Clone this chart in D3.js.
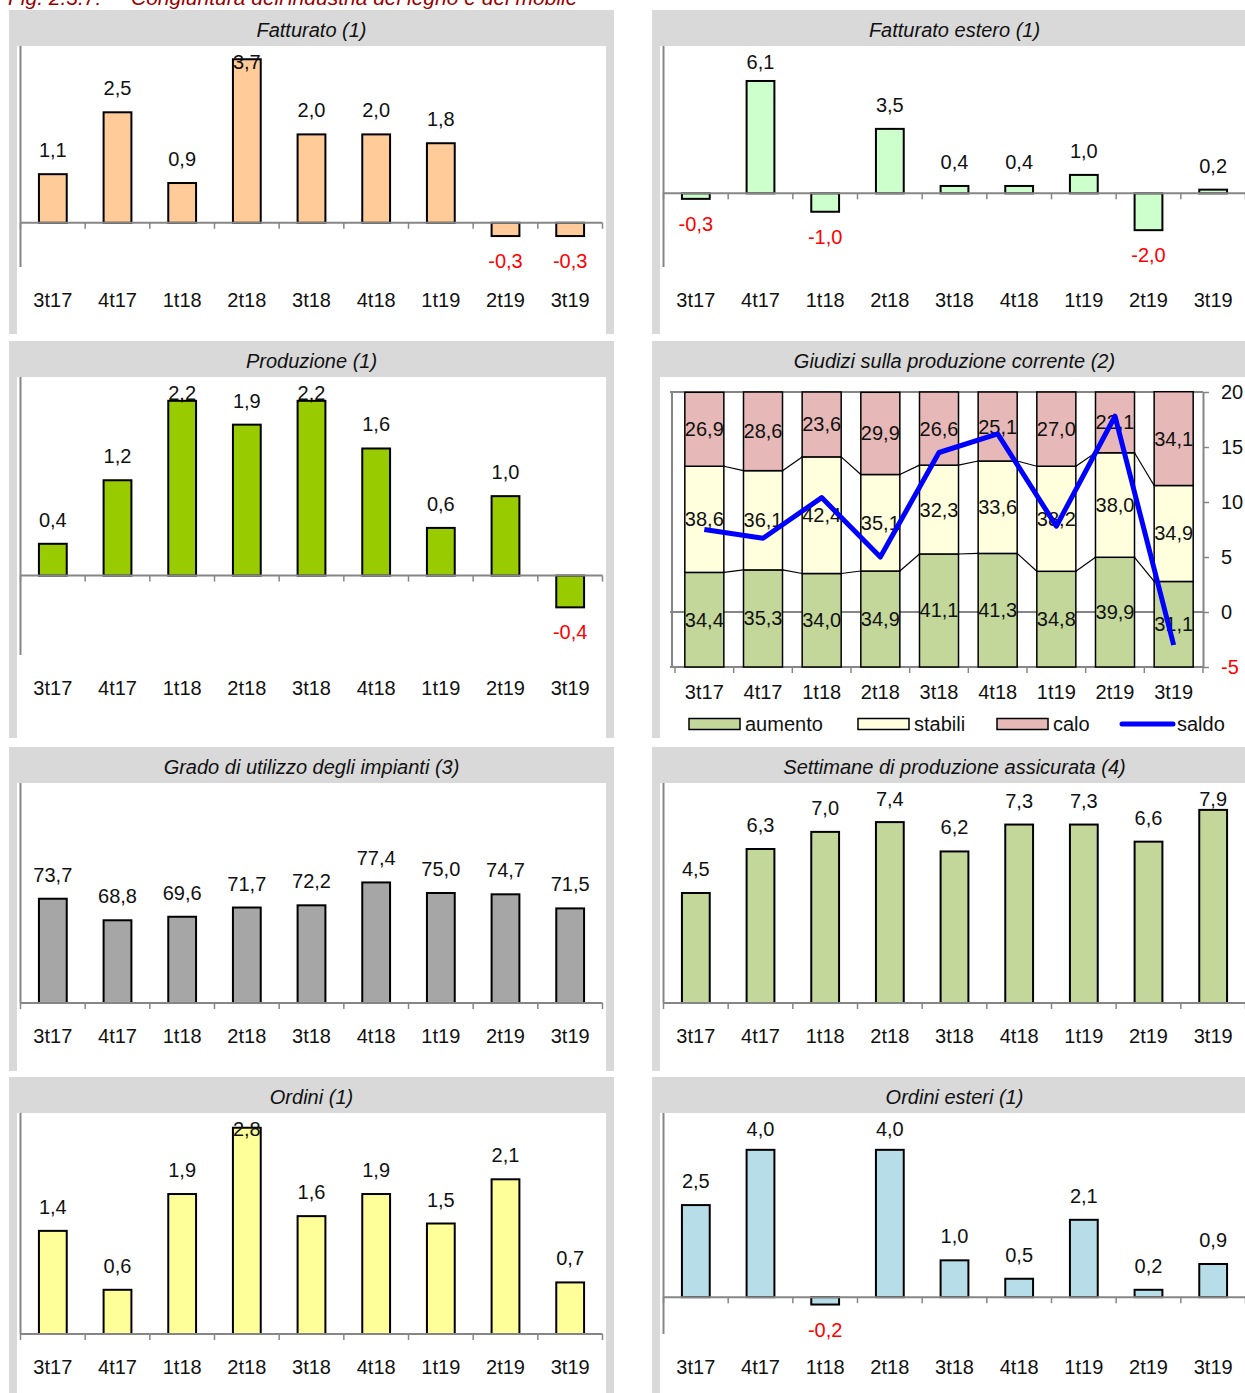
<!DOCTYPE html>
<html>
<head>
<meta charset="utf-8">
<script src="https://cdn.jsdelivr.net/npm/d3@7"></script>
<style>
  body { margin: 0; background: #fff; }
  svg text { font-family: "Liberation Sans", Arial, sans-serif; }
</style>
</head>
<body>
<svg id="chart" width="1245" height="1393"></svg>
<script>
const categories = ["3t17", "4t17", "1t18", "2t18", "3t18", "4t18", "1t19", "2t19", "3t19"];

const fatturato = [1.1, 2.5, 0.9, 3.7, 2.0, 2.0, 1.8, -0.3, -0.3];
const fatturatoEstero = [-0.3, 6.1, -1.0, 3.5, 0.4, 0.4, 1.0, -2.0, 0.2];
const produzione = [0.4, 1.2, 2.2, 1.9, 2.2, 1.6, 0.6, 1.0, -0.4];

const aumento = [34.4, 35.3, 34.0, 34.9, 41.1, 41.3, 34.8, 39.9, 31.1];
const stabili = [38.6, 36.1, 42.4, 35.1, 32.3, 33.6, 38.2, 38.0, 34.9];
const calo = [26.9, 28.6, 23.6, 29.9, 26.6, 25.1, 27.0, 22.1, 34.1];
const saldo = [7.5, 6.7, 10.4, 5.0, 14.5, 16.2, 7.8, 17.8, -3.0];
const saldoTicks = [-5, 0, 5, 10, 15, 20];

const utilizzo = [73.7, 68.8, 69.6, 71.7, 72.2, 77.4, 75.0, 74.7, 71.5];
const settimane = [4.5, 6.3, 7.0, 7.4, 6.2, 7.3, 7.3, 6.6, 7.9];
const ordini = [1.4, 0.6, 1.9, 2.8, 1.6, 1.9, 1.5, 2.1, 0.7];
const ordiniEsteri = [2.5, 4.0, -0.2, 4.0, 1.0, 0.5, 2.1, 0.2, 0.9];

const svg = d3.select("#chart");
const axisColor = "#868686";
const fmt = v => v.toFixed(1).replace(".", ",");

// figure title, cut off by the top edge
svg.append("text")
    .attr("x", 8).attr("y", 5)
    .attr("font-size", 21).attr("font-style", "italic")
    .attr("fill", "#990000")
    .text("Fig. 2.3.7:");
svg.append("text")
    .attr("x", 131).attr("y", 5)
    .attr("font-size", 21).attr("font-style", "italic")
    .attr("fill", "#990000")
    .text("Congiuntura dell'industria del legno e del mobile");

function panelFrame(x0, y0, w, h, title) {
    svg.append("rect")
        .attr("x", x0).attr("y", y0)
        .attr("width", w).attr("height", h)
        .attr("fill", "#d9d9d9");
    svg.append("rect")
        .attr("x", x0 + 8).attr("y", y0 + 36)
        .attr("width", w - 16).attr("height", h - 36)
        .attr("fill", "#fff");
    svg.append("text")
        .attr("x", x0 + w / 2).attr("y", y0 + 27)
        .attr("text-anchor", "middle")
        .attr("font-size", 20)
        .attr("font-style", "italic")
        .attr("fill", "#111")
        .text(title);
}

function categoryLabels(x, labelY) {
    const ax = svg.append("g")
        .attr("transform", `translate(0,${labelY - 7})`)
        .call(d3.axisBottom(x).tickSize(0).tickPadding(0));
    ax.select(".domain").remove();
    ax.selectAll("text")
        .attr("font-size", 20)
        .attr("font-family", "Liberation Sans, Arial, sans-serif")
        .attr("fill", "#111");
}

function barPanel(o) {
    const { x0, y0, w, h, title, values, fill, domain, labelOff } = o;
    panelFrame(x0, y0, w, h, title);

    const left = x0 + 11.5, right = left + 582;
    const top = y0 + 36, labelY = y0 + labelOff, bottom = labelY - 33;

    const x = d3.scaleBand().domain(categories).range([left, right]);
    const y = d3.scaleLinear().domain(domain).range([bottom, top]);
    const base = Math.max(domain[0], 0);
    const bw = x.bandwidth() * 0.43;
    const g = svg.append("g");

    g.selectAll(".bar")
        .data(values)
        .join("rect")
        .attr("class", "bar")
        .attr("x", (d, i) => x(categories[i]) + (x.bandwidth() - bw) / 2)
        .attr("y", d => y(Math.max(d, base)))
        .attr("width", bw)
        .attr("height", d => Math.abs(y(d) - y(base)))
        .attr("fill", fill)
        .attr("stroke", "#000")
        .attr("stroke-width", 2);

    // axes
    g.append("line")
        .attr("x1", left).attr("x2", left)
        .attr("y1", top).attr("y2", bottom)
        .attr("stroke", axisColor).attr("stroke-width", 2);
    g.append("line")
        .attr("x1", left).attr("x2", right)
        .attr("y1", y(base)).attr("y2", y(base))
        .attr("stroke", axisColor).attr("stroke-width", 2);
    g.selectAll(".tick-mark")
        .data(d3.range(categories.length + 1))
        .join("line")
        .attr("class", "tick-mark")
        .attr("x1", i => left + i * x.step()).attr("x2", i => left + i * x.step())
        .attr("y1", y(base)).attr("y2", y(base) + 6)
        .attr("stroke", axisColor).attr("stroke-width", 1.5);

    g.selectAll(".label")
        .data(values)
        .join("text")
        .attr("class", "label")
        .attr("x", (d, i) => x(categories[i]) + x.bandwidth() / 2)
        .attr("y", d => d >= 0
            ? Math.max(y(d) - 24, top + 16) + 7
            : y(d) + 25 + 7)
        .attr("text-anchor", "middle")
        .attr("font-size", 20)
        .attr("fill", d => d < 0 ? "#ff0000" : "#111")
        .text(d => fmt(d));

    categoryLabels(x, labelY);
}

const col1 = 9, col2 = 652, pw = 605;

barPanel({ x0: col1, y0: 10, w: pw, h: 324, title: "Fatturato (1)",
    values: fatturato, fill: "#ffcc99", domain: [-1, 4], labelOff: 290 });
barPanel({ x0: col2, y0: 10, w: pw, h: 324, title: "Fatturato estero (1)",
    values: fatturatoEstero, fill: "#ccffcc", domain: [-4, 8], labelOff: 290 });
barPanel({ x0: col1, y0: 341, w: pw, h: 397, title: "Produzione (1)",
    values: produzione, fill: "#99cc00", domain: [-1, 2.5], labelOff: 347 });
barPanel({ x0: col1, y0: 747, w: pw, h: 324, title: "Grado di utilizzo degli impianti (3)",
    values: utilizzo, fill: "#a6a6a6", domain: [50, 100], labelOff: 289 });
barPanel({ x0: col2, y0: 747, w: pw, h: 324, title: "Settimane di produzione assicurata (4)",
    values: settimane, fill: "#c4d79b", domain: [0, 9], labelOff: 289 });
barPanel({ x0: col1, y0: 1077, w: pw, h: 330, title: "Ordini (1)",
    values: ordini, fill: "#ffff99", domain: [0, 3], labelOff: 290 });
barPanel({ x0: col2, y0: 1077, w: pw, h: 330, title: "Ordini esteri (1)",
    values: ordiniEsteri, fill: "#b7dee8", domain: [-1, 5], labelOff: 290 });

// ---- Giudizi sulla produzione corrente (stacked + saldo line)
(function () {
    panelFrame(col2, 341, pw, 397, "Giudizi sulla produzione corrente (2)");
    const left = 675, right = 1203, top = 392, bottom = 667;
    const x = d3.scaleBand().domain(categories).range([left, right]);
    const yPct = d3.scaleLinear().domain([0, 100]).range([bottom, top]);
    const ySaldo = d3.scaleLinear().domain([-5, 20]).range([bottom, top]);
    const bw = x.bandwidth() * 0.665;
    const off = (x.bandwidth() - bw) / 2;

    const keys = ["aumento", "stabili", "calo"];
    const colors = { aumento: "#c4d79b", stabili: "#ffffdd", calo: "#e6b9b8" };
    const table = categories.map((c, i) => ({ cat: c, aumento: aumento[i], stabili: stabili[i], calo: calo[i] }));
    const series = d3.stack().keys(keys)(table);

    const g = svg.append("g");

    // grid / axis lines
    [top, ySaldo(0), bottom].forEach(yy => {
        g.append("line")
            .attr("x1", left - 5).attr("x2", right)
            .attr("y1", yy).attr("y2", yy)
            .attr("stroke", axisColor).attr("stroke-width", 2);
    });
    g.append("line")
        .attr("x1", left - 3).attr("x2", left - 3)
        .attr("y1", top).attr("y2", bottom)
        .attr("stroke", axisColor).attr("stroke-width", 2);

    series.forEach(s => {
        g.selectAll(null)
            .data(s)
            .join("rect")
            .attr("x", d => x(d.data.cat) + off)
            .attr("y", d => yPct(d[1]))
            .attr("width", bw)
            .attr("height", d => yPct(d[0]) - yPct(d[1]))
            .attr("fill", colors[s.key])
            .attr("stroke", "#000")
            .attr("stroke-width", 1.5);
    });

    // series lines between bars
    series.slice(0, 2).forEach(s => {
        g.selectAll(null)
            .data(s.slice(0, -1))
            .join("line")
            .attr("x1", d => x(d.data.cat) + off + bw)
            .attr("y1", d => yPct(d[1]))
            .attr("x2", (d, i) => x(s[i + 1].data.cat) + off)
            .attr("y2", (d, i) => yPct(s[i + 1][1]))
            .attr("stroke", "#000")
            .attr("stroke-width", 1.2);
    });

    series.forEach(s => {
        g.selectAll(null)
            .data(s)
            .join("text")
            .attr("x", d => x(d.data.cat) + x.bandwidth() / 2)
            .attr("y", d => yPct((d[0] + d[1]) / 2) + 7)
            .attr("text-anchor", "middle")
            .attr("font-size", 20)
            .attr("fill", "#111")
            .text(d => fmt(d.data[s.key]));
    });

    // bottom category ticks
    g.selectAll(".tick-mark")
        .data(d3.range(categories.length + 1))
        .join("line")
        .attr("x1", i => left + i * x.step()).attr("x2", i => left + i * x.step())
        .attr("y1", bottom).attr("y2", bottom + 6)
        .attr("stroke", axisColor).attr("stroke-width", 1.5);

    // right axis for saldo
    const ra = g.append("g")
        .attr("transform", `translate(${right},0)`)
        .call(d3.axisRight(ySaldo).tickValues(saldoTicks).tickSize(6).tickSizeOuter(0).tickPadding(12).tickFormat(d => String(d)));
    ra.select(".domain").attr("stroke", axisColor).attr("stroke-width", 2);
    ra.selectAll(".tick line").attr("stroke", axisColor).attr("stroke-width", 1.5);
    ra.selectAll(".tick text")
        .attr("font-size", 20)
        .attr("font-family", "Liberation Sans, Arial, sans-serif")
        .attr("fill", d => d < 0 ? "#ff0000" : "#111");

    // saldo line
    g.append("path")
        .datum(saldo)
        .attr("fill", "none")
        .attr("stroke", "#0000ff")
        .attr("stroke-width", 5)
        .attr("stroke-linejoin", "round")
        .attr("d", d3.line()
            .x((d, i) => x(categories[i]) + x.bandwidth() / 2)
            .y(d => ySaldo(d)));

    categoryLabels(x, 692);

    // legend
    const ly = 724;
    const legendItems = [
        { key: "aumento", px: 689 },
        { key: "stabili", px: 858 },
        { key: "calo", px: 997 }
    ];
    legendItems.forEach(it => {
        g.append("rect")
            .attr("x", it.px).attr("y", ly - 5.5)
            .attr("width", 51).attr("height", 11)
            .attr("fill", colors[it.key])
            .attr("stroke", "#000").attr("stroke-width", 1.5);
        g.append("text")
            .attr("x", it.px + 56).attr("y", ly + 7)
            .attr("font-size", 20).attr("fill", "#111")
            .text(it.key);
    });
    g.append("line")
        .attr("x1", 1122).attr("x2", 1173)
        .attr("y1", ly).attr("y2", ly)
        .attr("stroke", "#0000ff").attr("stroke-width", 5)
        .attr("stroke-linecap", "round");
    g.append("text")
        .attr("x", 1177).attr("y", ly + 7)
        .attr("font-size", 20).attr("fill", "#111")
        .text("saldo");
})();
</script>
</body>
</html>
